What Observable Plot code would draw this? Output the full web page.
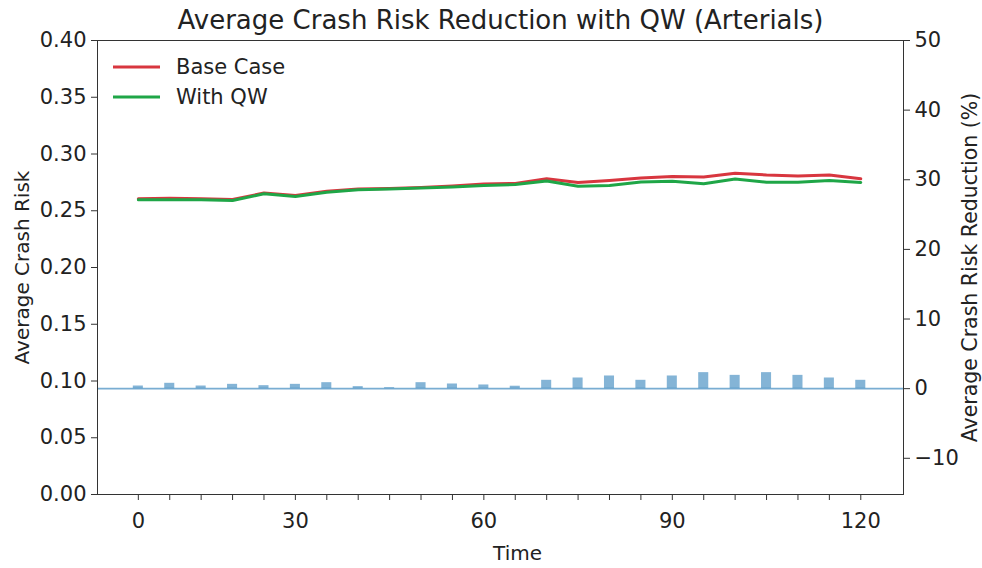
<!DOCTYPE html>
<html>
<head>
<meta charset="utf-8">
<script src="https://cdn.jsdelivr.net/npm/d3@7"></script>
<script src="https://cdn.jsdelivr.net/npm/@observablehq/plot@0.6"></script>
<style>
  html, body { margin: 0; padding: 0; background: white; }
</style>
</head>
<body>
<div id="chart"></div>
<script>
// ---- Data ----
const stepIndex = d3.range(24);                 // categorical time positions
const timeTickIndex = [0, 5, 11, 17, 23];       // positions that carry a label
const timeTickLabels = ["0", "30", "60", "90", "120"];
const baseCase = [0.2605, 0.2610, 0.2605, 0.2599, 0.2656, 0.2634, 0.2671, 0.2692,
                  0.2696, 0.2705, 0.2718, 0.2736, 0.2740, 0.2781, 0.2749, 0.2767,
                  0.2789, 0.2802, 0.2797, 0.2831, 0.2815, 0.2806, 0.2815, 0.2781];
const withQW   = [0.2596, 0.2596, 0.2596, 0.2590, 0.2649, 0.2626, 0.2663, 0.2685,
                  0.2692, 0.2700, 0.2709, 0.2722, 0.2731, 0.2762, 0.2716, 0.2722,
                  0.2753, 0.2760, 0.2737, 0.2780, 0.2752, 0.2752, 0.2767, 0.2749];
const reductionPct = [0.38, 0.77, 0.38, 0.62, 0.43, 0.62, 0.86, 0.29,
                      0.14, 0.86, 0.67, 0.53, 0.35, 1.20, 1.53, 1.82,
                      1.20, 1.82, 2.30, 1.91, 2.30, 1.91, 1.53, 1.20];
const leftTicks = [0, 0.05, 0.10, 0.15, 0.20, 0.25, 0.30, 0.35, 0.40];
const rightTicks = [-10, 0, 10, 20, 30, 40, 50];
const leftDomain = [0, 0.4];
const rightDomain = [-15.2, 50];
const seriesNames = ["Base Case", "With QW"];
const seriesColors = ["#d8363f", "#1fa647"];

// ---- Build table ----
const table = stepIndex.map((i, k) => ({
  i, base: baseCase[k], qw: withQW[k], red: reductionPct[k]
}));
const toLeft = d3.scaleLinear(rightDomain, leftDomain);
const tickLabelOf = new Map(timeTickIndex.map((t, k) => [t, timeTickLabels[k]]));
const barHalf = 0.16;

// legend as a custom render mark (placed relative to the frame)
function legendMark(index, scales, values, dims) {
  const ns = "http://www.w3.org/2000/svg";
  const g = document.createElementNS(ns, "g");
  seriesNames.forEach((name, k) => {
    const y = dims.marginTop + 27 + k * 30;
    const x0 = dims.marginLeft + 16;
    const ln = document.createElementNS(ns, "line");
    ln.setAttribute("x1", x0); ln.setAttribute("x2", x0 + 47);
    ln.setAttribute("y1", y); ln.setAttribute("y2", y);
    ln.setAttribute("stroke", seriesColors[k]); ln.setAttribute("stroke-width", 3);
    g.appendChild(ln);
    const t = document.createElementNS(ns, "text");
    t.setAttribute("x", x0 + 63); t.setAttribute("y", y);
    t.setAttribute("dy", "0.35em");
    t.setAttribute("text-anchor", "start");
    t.setAttribute("font-size", 21);
    t.setAttribute("fill", "#222");
    t.textContent = name;
    g.appendChild(t);
  });
  return g;
}

const chart = Plot.plot({
  width: 982,
  height: 568,
  marginLeft: 97,
  marginRight: 79,
  marginTop: 40,
  marginBottom: 74,
  style: { fontFamily: "DejaVu Sans", fontSize: "21px", background: "white", color: "#222" },
  x: { domain: [-1.3, 24.36] },
  y: { domain: leftDomain },
  marks: [
    Plot.rectY(table, {
      x1: d => d.i - barHalf, x2: d => d.i + barHalf,
      y1: toLeft(0), y2: d => toLeft(d.red),
      fill: "#1f77b4", fillOpacity: 0.55
    }),
    Plot.ruleY([toLeft(0)], { stroke: "#1f77b4", strokeOpacity: 0.6, strokeWidth: 1.6 }),
    Plot.line(table, { x: "i", y: "base", stroke: seriesColors[0], strokeWidth: 3 }),
    Plot.line(table, { x: "i", y: "qw", stroke: seriesColors[1], strokeWidth: 3 }),
    Plot.frame({ stroke: "#333", strokeWidth: 1 }),
    Plot.axisY(leftTicks, {
      anchor: "left", tickFormat: d3.format(".2f"), label: null,
      tickSize: 6, tickPadding: 5, stroke: "#333"
    }),
    Plot.axisY(rightTicks.map(v => toLeft(v)), {
      anchor: "right", label: null,
      tickFormat: d => d3.format("d")(Math.round(toLeft.invert(d))),
      tickSize: 6, tickPadding: 5, stroke: "#333"
    }),
    Plot.axisX(stepIndex, {
      anchor: "bottom", label: null,
      tickFormat: i => tickLabelOf.get(i) ?? "",
      tickSize: 6, tickPadding: 13, stroke: "#333"
    }),
    Plot.text(["Average Crash Risk"], {
      frameAnchor: "left", textAnchor: "middle", rotate: -90, dx: -75, fontSize: 20, fill: "#222"
    }),
    Plot.text(["Average Crash Risk Reduction (%)"], {
      frameAnchor: "right", textAnchor: "middle", rotate: -90, dx: 67, fontSize: 20.5, fill: "#222"
    }),
    Plot.text(["Time"], {
      frameAnchor: "bottom", lineAnchor: "middle", dy: 59, dx: 17, fontSize: 20, fill: "#222"
    }),
    Plot.text(["Average Crash Risk Reduction with QW (Arterials)"], {
      frameAnchor: "top", lineAnchor: "middle", dy: -20, fontSize: 26, fill: "#222"
    }),
    legendMark
  ]
});
document.getElementById("chart").appendChild(chart);
</script>
</body>
</html>
